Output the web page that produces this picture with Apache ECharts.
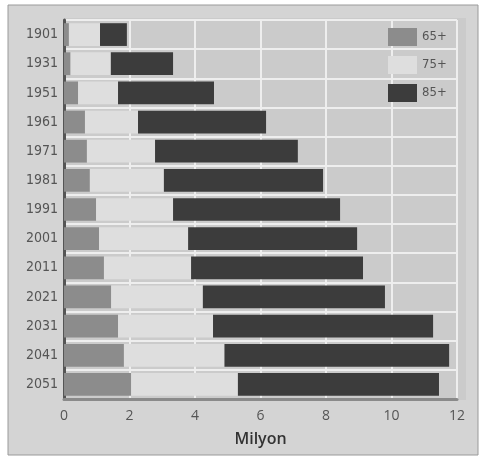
<!DOCTYPE html>
<html><head><meta charset="utf-8">
<script src="https://cdn.jsdelivr.net/npm/echarts@6/dist/echarts.min.js"></script>
<style>html,body{margin:0;padding:0;background:#fff}#c{width:489px;height:461px}</style>
</head><body><div id="c"></div>
<script>
const years = ['1901','1931','1951','1961','1971','1981','1991','2001','2011','2021','2031','2041','2051'];
const seriesNames = ['65+','75+','85+'];
// cumulative end of each segment (million)
const end65 = [0.15,0.2,0.43,0.64,0.7,0.79,0.98,1.07,1.22,1.44,1.65,1.83,2.05];
const end75 = [1.1,1.43,1.65,2.26,2.78,3.05,3.33,3.79,3.88,4.24,4.55,4.9,5.31];
const end85 = [1.92,3.33,4.58,6.17,7.14,7.91,8.43,8.95,9.13,9.8,11.27,11.76,11.45];
const xTicks = [0,2,4,6,8,10,12];
const xTitle = 'Milyon';

const v65 = end65.slice();
const v75 = end75.map((v,i)=>+(v-end65[i]).toFixed(2));
const v85 = end85.map((v,i)=>+(v-end75[i]).toFixed(2));
const colors = ['#8c8c8c','#dedede','#3c3c3c'];
const font = '"DejaVu Sans Condensed",sans-serif';

const chart = echarts.init(document.getElementById('c'));
chart.setOption({
  animation:false,
  backgroundColor:'#ffffff',
  graphic:[
    {type:'rect',z:-10,shape:{x:8,y:5,width:470,height:450},style:{fill:'#d4d4d4',stroke:'#9a9a9a',lineWidth:1}},
    {type:'rect',z:-9,shape:{x:64,y:18,width:402,height:382},style:{fill:'#cbcbcb'}}
  ],
  grid:{left:64,right:32,top:20,bottom:62,containLabel:false},
  legend:{
    orient:'vertical',left:383,top:23,itemWidth:29,itemHeight:18,itemGap:10,
    icon:'rect',
    textStyle:{fontFamily:font,fontSize:13,color:'#555'},
    data:seriesNames
  },
  xAxis:{
    type:'value',min:0,max:12,interval:2,
    name:xTitle,nameLocation:'middle',nameGap:32,
    nameTextStyle:{fontFamily:'"Open Sans",sans-serif',fontSize:16,color:'#333',fontWeight:600},
    axisLine:{show:true,lineStyle:{color:'#8a8a8a',width:3}},
    axisTick:{show:false},
    axisLabel:{fontFamily:'"Open Sans",sans-serif',fontSize:14,color:'#555',margin:10,
      formatter:v=>xTicks.includes(v)?String(v):''},
    splitLine:{show:true,lineStyle:{color:'#eeeeee',width:2}}
  },
  yAxis:{
    type:'category',data:years,inverse:true,
    axisLine:{show:true,lineStyle:{color:'#555',width:3}},
    axisTick:{show:false},
    axisLabel:{fontFamily:font,fontSize:14,color:'#555',margin:6},
    splitLine:{show:true,lineStyle:{color:'#eeeeee',width:2}}
  },
  series:[
    {name:seriesNames[0],type:'bar',stack:'t',data:v65,itemStyle:{color:colors[0]},barCategoryGap:'22%'},
    {name:seriesNames[1],type:'bar',stack:'t',data:v75,itemStyle:{color:colors[1]}},
    {name:seriesNames[2],type:'bar',stack:'t',data:v85,itemStyle:{color:colors[2]}}
  ]
});
</script></body></html>
